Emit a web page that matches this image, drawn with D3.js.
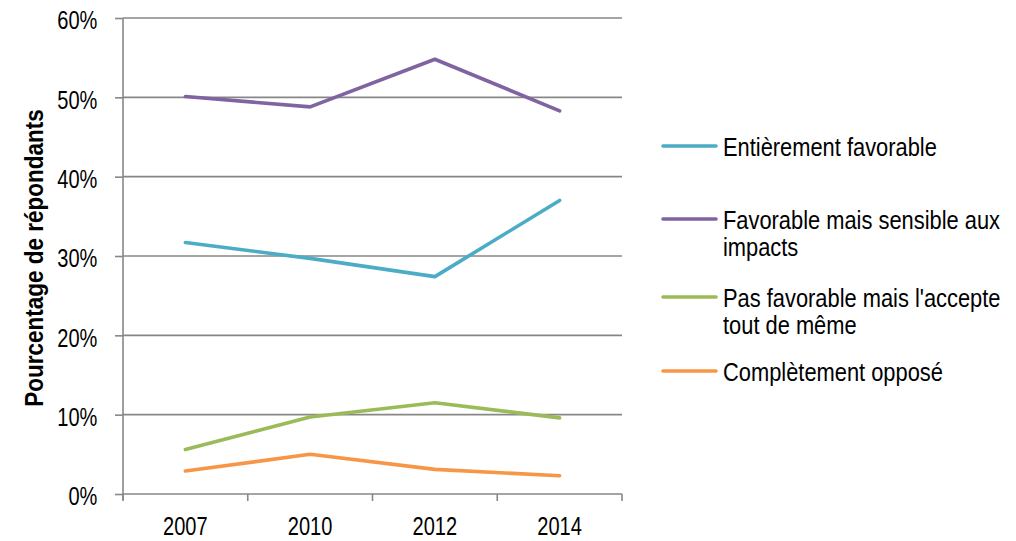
<!DOCTYPE html>
<html><head><meta charset="utf-8">
<script src="https://cdn.jsdelivr.net/npm/d3@7"></script>
<style>
body{margin:0;background:#fff;}
text{font-family:"Liberation Sans",Arial,sans-serif;fill:#000;}
</style></head>
<body><svg id="c" width="1016" height="541"></svg>
<script>
const years = ["2007","2010","2012","2014"];
const yTicks = [0,10,20,30,40,50,60];
const seriesNames = ["Entièrement favorable","Favorable mais sensible aux impacts","Pas favorable mais l'accepte tout de même","Complètement opposé"];
const legendLines = [["Entièrement favorable"],["Favorable mais sensible aux","impacts"],["Pas favorable mais l'accepte","tout de même"],["Complètement opposé"]];
const entierement = [31.7, 29.7, 27.4, 37.0];
const sensible = [50.1, 48.8, 54.8, 48.3];
const accepte = [5.6, 9.7, 11.5, 9.6];
const oppose = [2.9, 5.0, 3.1, 2.3];
const colors = ["#4bacc6","#8064a2","#9bbb59","#f79646"];
const allSeries = [entierement, sensible, accepte, oppose];

const NARROW = 0.77;
const svg = d3.select("#c");
const x = d3.scaleBand().domain(years).range([123,622]);
const y = d3.scaleLinear().domain([0,60]).range([494,18]);
const grid = "#878787";

// gridlines
svg.append("g").selectAll("line").data(yTicks.filter(d=>d>0)).join("line")
  .attr("x1",123).attr("x2",622).attr("y1",d=>y(d)).attr("y2",d=>y(d))
  .attr("stroke",grid).attr("stroke-width",1.6);

// y axis
const ya = svg.append("g").attr("transform","translate(123,0)")
  .call(d3.axisLeft(y).tickValues(yTicks).tickSize(8).tickFormat(d=>d+"%"));
ya.select(".domain").attr("stroke",grid).attr("stroke-width",1.6).attr("d","M0,18V500");
ya.selectAll(".tick line").attr("stroke",grid).attr("stroke-width",1.6);
ya.selectAll(".tick text").attr("font-size",26).attr("font-family",null).attr("fill","#000")
  .attr("x",-25.7/NARROW).attr("dy","0.42em").attr("transform",`scale(${NARROW},1)`);

// x axis
const xa = svg.append("g").attr("transform","translate(0,494)")
  .call(d3.axisBottom(x).tickSize(0).tickPadding(23));
xa.select(".domain").attr("stroke",grid).attr("stroke-width",1.6).attr("d","M123,0H622");
xa.selectAll(".tick text").attr("font-size",26).attr("font-family",null).attr("fill","#000")
  .attr("transform",`scale(${NARROW},1)`);
// boundary ticks between categories
const bounds = years.map(d=>x(d)).concat([x.range()[1]]);
svg.append("g").selectAll("line").data(bounds).join("line")
  .attr("x1",d=>d).attr("x2",d=>d)
  .attr("y1",494).attr("y2",501).attr("stroke",grid).attr("stroke-width",1.6);

// y title
svg.append("text").attr("transform","translate(43,258) rotate(-90) scale(0.9,1)")
  .attr("text-anchor","middle").attr("font-size",25).attr("font-weight","bold")
  .text("Pourcentage de répondants");

// lines
const line = d3.line().x((d,i)=>x(years[i])+x.bandwidth()/2).y(d=>y(d));
svg.append("g").selectAll("path").data(allSeries).join("path")
  .attr("d",line).attr("fill","none").attr("stroke",(d,i)=>colors[i])
  .attr("stroke-width",3.6).attr("stroke-linecap","round").attr("stroke-linejoin","round");

// legend
const legY = [146,219,297,371];
const lg = svg.append("g").selectAll("g").data(seriesNames).join("g")
  .attr("transform",(d,i)=>`translate(663,${legY[i]})`);
lg.append("line").attr("x1",0).attr("x2",53).attr("y1",0).attr("y2",0)
  .attr("stroke",(d,i)=>colors[i]).attr("stroke-width",3.6).attr("stroke-linecap","round");
lg.each(function(d,i){
  const t = d3.select(this).append("text").attr("font-size",25)
    .attr("transform","translate(60,0) scale(0.875,1)");
  legendLines[i].forEach((s,j)=>t.append("tspan").attr("x",0).attr("y",10 + j*27.5).text(s));
});
</script></body></html>
